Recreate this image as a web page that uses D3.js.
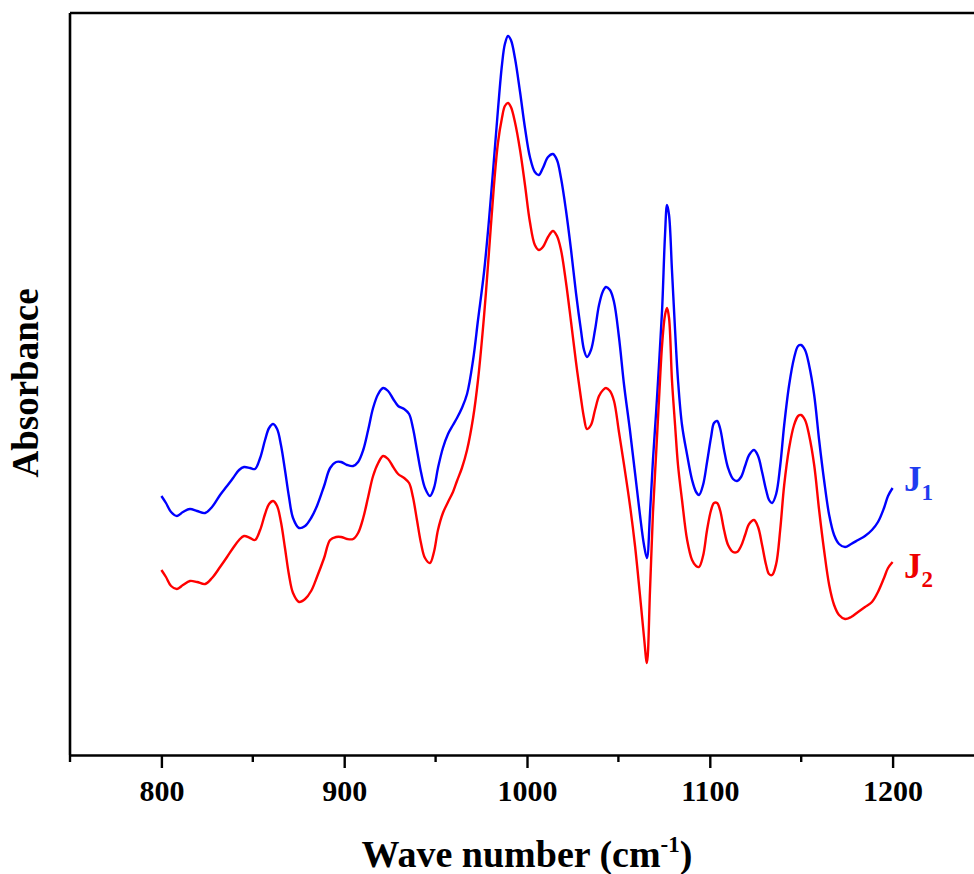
<!DOCTYPE html>
<html>
<head>
<meta charset="utf-8">
<script src="https://cdnjs.cloudflare.com/ajax/libs/d3/7.8.5/d3.min.js"></script>
<style>
  body { margin: 0; background: #fff; }
  text { font-family: "Liberation Serif", "Times New Roman", serif; font-weight: bold; }
</style>
</head>
<body>
<div id="chart-area"></div>
<script>
// wave numbers (cm-1), shared by both spectra
var waveNumber = [
    800, 802.5, 805.3, 808.5, 811.8, 815.6, 819.5, 823.9, 827.7, 832.1,
    835.9, 839.2, 842.5, 845.2, 848.5, 851.2, 854.0, 856.7, 858.9, 861.1,
    863.3, 865.4, 867.6, 869.8, 872.0, 875.3, 878.6, 881.9, 885.1, 889.0,
    892.3, 895.6, 898.3, 901.6, 904.9, 907.6, 910.4, 913.1, 915.8, 918.6,
    921.3, 924.0, 926.8, 929.5, 932.8, 935.5, 937.6, 939.8, 942.0, 944.2,
    946.9, 949.1, 951.3, 954.0, 956.8, 959.5, 961.7, 964.4, 967.2, 970.5,
    973.2, 976.5, 979.2, 981.9, 984.1, 986.3, 987.9, 989.6, 991.2, 993.4,
    996.2, 998.9, 1001.6, 1004.3, 1006.5, 1008.7, 1011.5, 1014.2, 1016.4, 1018.6,
    1021.3, 1024.1, 1026.8, 1029.5, 1031.2, 1032.8, 1035.0, 1037.2, 1039.4, 1041.6,
    1043.2, 1045.4, 1047.6, 1050.3, 1053.1, 1056.3, 1059.1, 1061.8, 1064.0, 1065.6,
    1067.3, 1068.9, 1070.6, 1072.2, 1073.9, 1075.5, 1076.6, 1077.7, 1079.3, 1081.0,
    1082.6, 1084.8, 1087.6, 1090.3, 1092.5, 1094.1, 1096.3, 1098.5, 1100.7, 1102.3,
    1104.0, 1105.6, 1107.8, 1110.0, 1112.7, 1114.9, 1117.1, 1119.3, 1121.5, 1124.2,
    1126.4, 1128.6, 1130.8, 1132.4, 1134.1, 1136.3, 1138.5, 1140.7, 1143.4, 1146.1,
    1148.3, 1149.9, 1152.1, 1154.3, 1157.1, 1159.8, 1162.5, 1165.3, 1168.0, 1170.7,
    1174.0, 1177.3, 1181.1, 1184.9, 1188.7, 1192.0, 1195.3, 1197.5, 1200.0
];

var absJ1 = [
    0.259, 0.252, 0.243, 0.239, 0.243, 0.246, 0.244, 0.242, 0.248, 0.260,
    0.269, 0.277, 0.285, 0.288, 0.287, 0.286, 0.297, 0.315, 0.327, 0.331,
    0.326, 0.310, 0.285, 0.258, 0.237, 0.227, 0.229, 0.237, 0.249, 0.269,
    0.287, 0.293, 0.293, 0.290, 0.289, 0.293, 0.305, 0.325, 0.347, 0.361,
    0.367, 0.364, 0.356, 0.349, 0.346, 0.341, 0.327, 0.305, 0.283, 0.267,
    0.259, 0.267, 0.287, 0.307, 0.321, 0.330, 0.337, 0.347, 0.361, 0.395,
    0.435, 0.483, 0.535, 0.595, 0.645, 0.690, 0.711, 0.719, 0.715, 0.697,
    0.663, 0.627, 0.598, 0.583, 0.580, 0.587, 0.598, 0.601, 0.595, 0.577,
    0.545, 0.505, 0.462, 0.425, 0.405, 0.398, 0.405, 0.425, 0.450, 0.464,
    0.468, 0.465, 0.453, 0.418, 0.370, 0.325, 0.282, 0.240, 0.210, 0.197,
    0.242, 0.295, 0.342, 0.390, 0.445, 0.520, 0.550, 0.540, 0.485, 0.425,
    0.375, 0.330, 0.300, 0.275, 0.263, 0.260, 0.270, 0.293, 0.318, 0.332,
    0.334, 0.327, 0.305, 0.287, 0.276, 0.274, 0.278, 0.289, 0.300, 0.305,
    0.299, 0.283, 0.265, 0.255, 0.252, 0.261, 0.289, 0.330, 0.370, 0.397,
    0.409, 0.410, 0.405, 0.390, 0.360, 0.315, 0.275, 0.240, 0.220, 0.211,
    0.208, 0.211, 0.215, 0.219, 0.225, 0.233, 0.247, 0.259, 0.267
];

var absJ2 = [
    0.185, 0.178, 0.169, 0.166, 0.170, 0.174, 0.173, 0.171, 0.177, 0.188,
    0.198, 0.207, 0.215, 0.219, 0.217, 0.215, 0.225, 0.241, 0.251, 0.254,
    0.249, 0.233, 0.207, 0.180, 0.162, 0.153, 0.156, 0.164, 0.178, 0.197,
    0.215, 0.218, 0.218, 0.216, 0.216, 0.222, 0.237, 0.258, 0.279, 0.292,
    0.299, 0.296, 0.288, 0.281, 0.277, 0.272, 0.258, 0.235, 0.212, 0.197,
    0.192, 0.203, 0.225, 0.242, 0.253, 0.263, 0.274, 0.287, 0.305, 0.337,
    0.375, 0.439, 0.503, 0.569, 0.612, 0.637, 0.649, 0.652, 0.648, 0.633,
    0.605, 0.570, 0.533, 0.510, 0.505, 0.508, 0.518, 0.524, 0.519, 0.505,
    0.473, 0.433, 0.393, 0.357, 0.337, 0.326, 0.330, 0.345, 0.359, 0.365,
    0.367, 0.364, 0.354, 0.323, 0.290, 0.250, 0.209, 0.160, 0.118, 0.092,
    0.165, 0.242, 0.300, 0.355, 0.410, 0.440, 0.447, 0.437, 0.375, 0.330,
    0.290, 0.255, 0.215, 0.195, 0.189, 0.188, 0.199, 0.225, 0.245, 0.252,
    0.252, 0.245, 0.225, 0.210, 0.203, 0.203, 0.209, 0.220, 0.231, 0.235,
    0.228, 0.210, 0.190, 0.181, 0.180, 0.191, 0.225, 0.270, 0.307, 0.330,
    0.339, 0.340, 0.335, 0.320, 0.290, 0.245, 0.205, 0.170, 0.150, 0.140,
    0.136, 0.138, 0.143, 0.148, 0.153, 0.163, 0.177, 0.187, 0.193
];

var majorTicks = [800, 900, 1000, 1100, 1200];
var minorTicks = [750, 850, 950, 1050, 1150];

var seriesNames = ["J1", "J2"];
var seriesColors = ["#0000ff", "#ff0000"];
var seriesText = ["#1f3cf0", "#ee0000"];

var margin = {top: 13, bottom: 119, left: 70, right: 0};
var width = 914;
var height = 742;

var svg = d3.select("#chart-area").append("svg")
    .attr("width", 974)
    .attr("height", 874);

var g = svg.append("g")
    .attr("transform", "translate(" + margin.left + "," + margin.top + ")");

var x = d3.scaleLinear()
    .domain([750, 1250])
    .range([0, width]);

var y = d3.scaleLinear()
    .domain([0, 0.742])
    .range([height, 0]);

// frame: top and left
g.append("line")
    .attr("x1", 0).attr("x2", width)
    .attr("y1", 0).attr("y2", 0)
    .attr("stroke", "#000").attr("stroke-width", 2.6);
g.append("line")
    .attr("x1", 0).attr("x2", 0)
    .attr("y1", 0).attr("y2", height)
    .attr("stroke", "#000").attr("stroke-width", 2.6);

// bottom axis
var xAxisGroup = g.append("g")
    .attr("class", "x axis")
    .attr("transform", "translate(0," + height + ")");

var bottomAxis = d3.axisBottom(x)
    .tickValues(majorTicks)
    .tickFormat(d3.format("d"))
    .tickSize(13)
    .tickPadding(12)
    .tickSizeOuter(0);

xAxisGroup.call(bottomAxis);
xAxisGroup.select(".domain")
    .attr("stroke-width", 2.6);
xAxisGroup.selectAll(".tick line")
    .attr("stroke-width", 2.4);
xAxisGroup.selectAll("text")
    .attr("font-size", "30px")
    .attr("font-family", "'Liberation Serif', 'Times New Roman', serif")
    .attr("font-weight", "bold")
    .attr("fill", "#000");

xAxisGroup.selectAll(".minor")
    .data(minorTicks)
    .enter().append("line")
    .attr("class", "minor")
    .attr("x1", (d) => { return x(d); })
    .attr("x2", (d) => { return x(d); })
    .attr("y1", 0)
    .attr("y2", 7)
    .attr("stroke", "#000")
    .attr("stroke-width", 2.4);

// spectra
var line = d3.line()
    .x((d) => { return x(d[0]); })
    .y((d) => { return y(d[1]); })
    .curve(d3.curveCatmullRom.alpha(0.5));

[absJ1, absJ2].forEach((vals, i) => {
    var pts = waveNumber.map((w, k) => { return [w, vals[k]]; });
    g.append("path")
        .datum(pts)
        .attr("fill", "none")
        .attr("stroke", seriesColors[i])
        .attr("stroke-width", 2.4)
        .attr("stroke-linejoin", "round")
        .attr("d", line);
});

// series labels next to line ends
var labelY = [491, 578];
seriesNames.forEach((name, i) => {
    var t = svg.append("text")
        .attr("x", 904)
        .attr("y", labelY[i])
        .attr("font-size", "35px")
        .attr("fill", seriesText[i]);
    t.append("tspan").text(name.charAt(0));
    t.append("tspan")
        .attr("font-size", "23px")
        .attr("dy", 9)
        .text(name.charAt(1));
});

// axis titles
var xLabel = svg.append("text")
    .attr("x", margin.left + width / 2)
    .attr("y", 867)
    .attr("font-size", "38px")
    .attr("text-anchor", "middle");
xLabel.append("tspan").text("Wave number (cm");
xLabel.append("tspan")
    .attr("font-size", "23px")
    .attr("dy", -15)
    .text("-1");
xLabel.append("tspan")
    .attr("dy", 15)
    .text(")");

svg.append("text")
    .attr("transform", "translate(38,383) rotate(-90)")
    .attr("font-size", "37px")
    .attr("text-anchor", "middle")
    .text("Absorbance");
</script>
</body>
</html>
